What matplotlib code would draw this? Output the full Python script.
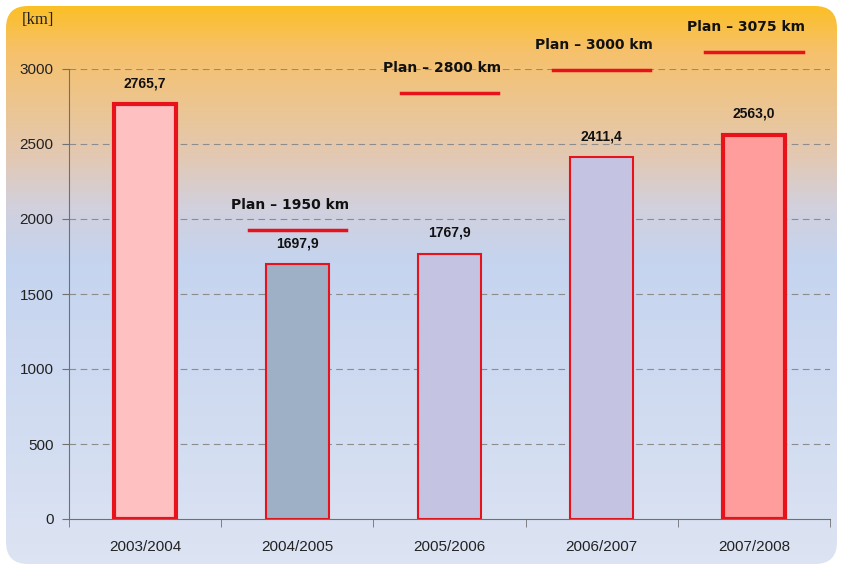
import matplotlib
matplotlib.use('Agg')
import matplotlib.pyplot as plt
import numpy as np
from matplotlib.colors import LinearSegmentedColormap
from matplotlib.patches import FancyBboxPatch

seasons = ['2003/2004', '2004/2005', '2005/2006', '2006/2007', '2007/2008']
values = [2765.7, 1697.9, 1767.9, 2411.4, 2563.0]
value_labels = ['2765,7', '1697,9', '1767,9', '2411,4', '2563,0']
plan_idx = [1, 2, 3, 4]
plan_values = [1950, 2800, 3000, 3075]
plan_pos = [1927, 2840, 2993, 3113]   # where the red plan lines sit on the chart
bar_colors = ['#ffc0c2', '#9eb0c6', '#c4c4e2', '#c4c4e2', '#ff9c9c']
edge_widths = [3.0, 1.5, 1.5, 1.5, 3.0]

W, H = 843, 570
fig = plt.figure(figsize=(W / 100, H / 100), dpi=100)

# background gradient in a rounded box (top = yellow, bottom = pale blue)
bg = fig.add_axes([0, 0, 1, 1])
bg.set_xlim(0, W)
bg.set_ylim(0, H)
bg.axis('off')
grad = LinearSegmentedColormap.from_list('bg', [
    (0.0, '#fcbf1e'), (0.09, '#f6c16c'), (0.28, '#e2c9b6'),
    (0.36, '#d2d0dc'), (0.46, '#c5d4ef'), (1.0, '#dde4f3')])
img = bg.imshow(np.linspace(0, 1, 256).reshape(-1, 1), cmap=grad, aspect='auto',
                extent=[0, W, 0, H], origin='upper')
box = FancyBboxPatch((6, 6), 831, 558, boxstyle='round,pad=0,rounding_size=22',
                     transform=bg.transData, facecolor='none', edgecolor='none')
bg.add_patch(box)
img.set_clip_path(box)

ax = fig.add_axes([69 / W, 51 / H, 761 / W, 450 / H])
ax.patch.set_alpha(0)
x = np.arange(len(seasons))
ax.bar(x, values, width=0.41, color=bar_colors, edgecolor='#e8121a',
       linewidth=edge_widths, zorder=3)
ax.set_xlim(-0.5, len(seasons) - 0.5)
ax.set_ylim(0, 3000)
ax.set_yticks(np.arange(0, 3001, 500))
ax.set_xticks(x)
ax.set_xticklabels(seasons)
ax.set_xticks(np.arange(-0.5, len(seasons)), minor=True)
ax.tick_params(axis='x', which='major', length=0, pad=15)
ax.tick_params(axis='x', which='minor', length=6, color='#707070', direction='out')
ax.tick_params(axis='y', length=5, color='#707070', pad=6)
ax.tick_params(labelsize=11, labelcolor='#222222')
for lab in ax.get_xticklabels() + ax.get_yticklabels():
    lab.set_family('Liberation Sans')
for s in ['top', 'right']:
    ax.spines[s].set_visible(False)
for s in ['left', 'bottom']:
    ax.spines[s].set_color('#707070')
ax.spines['bottom'].set_zorder(4)
for v in np.arange(500, 3001, 500):
    ax.axhline(v, color='#8c8c8c', linestyle=(0, (6, 4)), linewidth=0.8, zorder=1)

for i, (v, t) in enumerate(zip(values, value_labels)):
    ax.annotate(t, (i, v), xytext=(0, 10), textcoords='offset points', ha='center',
                va='bottom', fontsize=10, fontweight='bold', family='Liberation Sans',
                color='#111111')

for i, pv, py in zip(plan_idx, plan_values, plan_pos):
    ax.plot([i - 0.32, i + 0.32], [py, py], color='#e8121a', linewidth=2.5,
            clip_on=False, zorder=3)
    ax.annotate('Plan \u2013 %d km' % pv, (i - 0.05, py), xytext=(0, 13),
                textcoords='offset points', ha='center', va='bottom', fontsize=10,
                fontweight='bold', family='DejaVu Sans', color='#111111',
                annotation_clip=False)

fig.text(38 / W, 1 - 20 / H, '[km]', family='Liberation Serif', fontsize=12,
         va='center', ha='center', color='#222222')

plt.savefig('out.png', dpi=100)
